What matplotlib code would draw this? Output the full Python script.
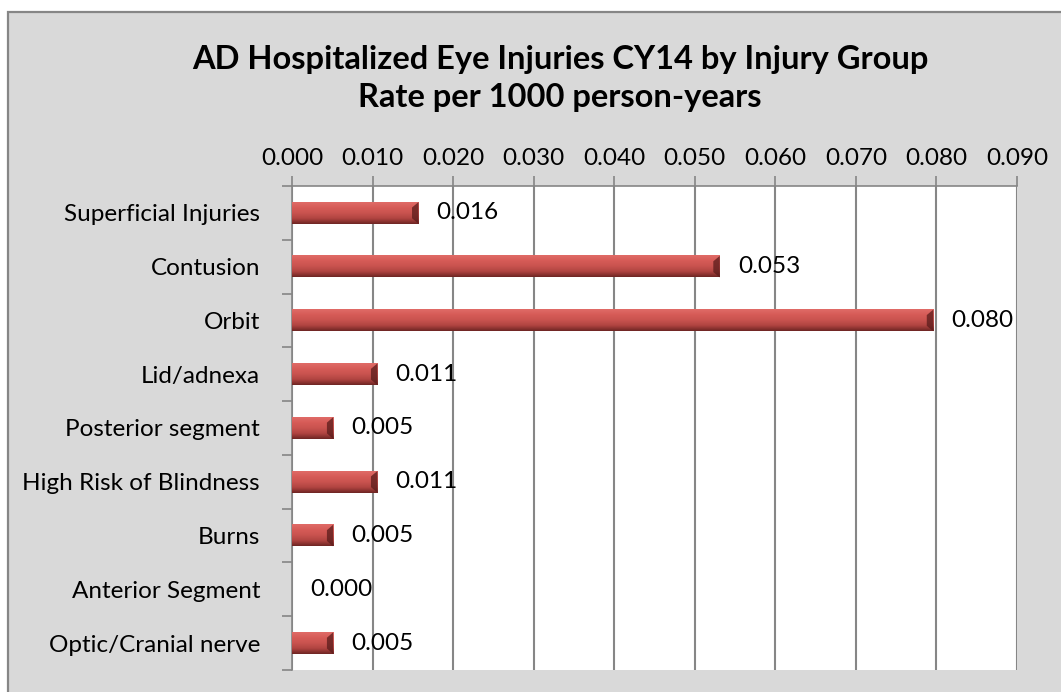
import matplotlib
matplotlib.use('Agg')
import matplotlib.pyplot as plt
import numpy as np
from matplotlib.patches import Rectangle, Polygon
from matplotlib.colors import LinearSegmentedColormap

categories = ["Superficial Injuries", "Contusion", "Orbit", "Lid/adnexa",
              "Posterior segment", "High Risk of Blindness", "Burns",
              "Anterior Segment", "Optic/Cranial nerve"]
rates = [0.0157, 0.0531, 0.0796, 0.0106, 0.0051, 0.0106, 0.0051, 0.0, 0.0051]
title_lines = ["AD Hospitalized Eye Injuries CY14 by Injury Group",
               "Rate per 1000 person-years"]
x_ticks = [0.000, 0.010, 0.020, 0.030, 0.040, 0.050, 0.060, 0.070, 0.080, 0.090]

FONT = 'Lato'
FS = 17.5
W, H = 1061, 692
fig = plt.figure(figsize=(W / 100, H / 100), dpi=100, facecolor='white')

# chart area background with border (left/top visible)
bg = Rectangle((8 / W, -0.2), 1.2, (H - 12) / H + 0.2, transform=fig.transFigure,
               facecolor='#d9d9d9', edgecolor='#868686', linewidth=1.6, zorder=-5)
fig.patches.append(bg)

ax = fig.add_axes([292 / W, (H - 670) / H, (1017 - 292) / W, (670 - 186) / H])
ax.set_zorder(5)
ax.set_facecolor('white')

y = np.arange(len(categories))
bars = ax.barh(y, rates, height=0.4, color='#c0504d', zorder=3, edgecolor='none')

cmap = LinearSegmentedColormap.from_list('bev', ['#e06b67', '#d65b57', '#c9534f', '#b04441', '#6e2523'])
grad = np.linspace(0, 1, 64).reshape(-1, 1)
for b in bars:
    x0, y0 = b.get_x(), b.get_y()
    w, h = b.get_width(), b.get_height()
    if w <= 0:
        continue
    ax.imshow(grad, extent=[x0, x0 + w, y0 + h, y0], origin='upper', aspect='auto',
              cmap=cmap, zorder=4, interpolation='bilinear')
    e = min(0.0008, w * 0.15)
    ax.add_patch(Polygon([(x0 + w, y0), (x0 + w, y0 + h), (x0 + w - e, y0 + h * 0.75),
                          (x0 + w - e, y0 + h * 0.25)], closed=True,
                         facecolor='#5a1c1b', alpha=0.75, edgecolor='none', zorder=5))

for yi, v in zip(y, rates):
    ax.annotate(f"{v:.3f}", xy=(v, yi), xytext=(13, 0), textcoords='offset points',
                ha='left', va='center', fontsize=FS, family=FONT, color='black', zorder=6)

ax.set_xlim(0, 0.09)
ax.set_ylim(len(categories) - 0.5, -0.5)
ax.set_xticks(x_ticks)
ax.set_xticklabels([f"{t:.3f}" for t in x_ticks], family=FONT, fontsize=FS)
ax.xaxis.tick_top()
ax.tick_params(axis='x', which='major', direction='out', length=7, width=1.2,
               color='#868686', pad=5.5, top=True, bottom=False)
ax.grid(axis='x', color='#868686', linewidth=1.5, zorder=1)
ax.set_axisbelow(True)

ax.set_yticks(y)
ax.set_yticklabels(categories, family=FONT, fontsize=FS)
ax.set_yticks(np.arange(-0.5, len(categories), 1.0), minor=True)
ax.tick_params(axis='y', which='major', length=0, pad=23)
ax.tick_params(axis='y', which='minor', direction='out', length=7, width=1.2, color='#868686')

for s in ['top', 'left']:
    ax.spines[s].set_color('#868686')
    ax.spines[s].set_linewidth(1.2)
ax.spines['bottom'].set_visible(False)
ax.spines['right'].set_visible(False)

fig.text(560 / W, 1 - 59 / H, title_lines[0], ha='center', va='center',
         fontsize=23.5, fontweight='bold', family=FONT)
fig.text(560 / W, 1 - 97 / H, title_lines[1], ha='center', va='center',
         fontsize=23.5, fontweight='bold', family=FONT)

fig.savefig('out.png', dpi=100, facecolor='white')
